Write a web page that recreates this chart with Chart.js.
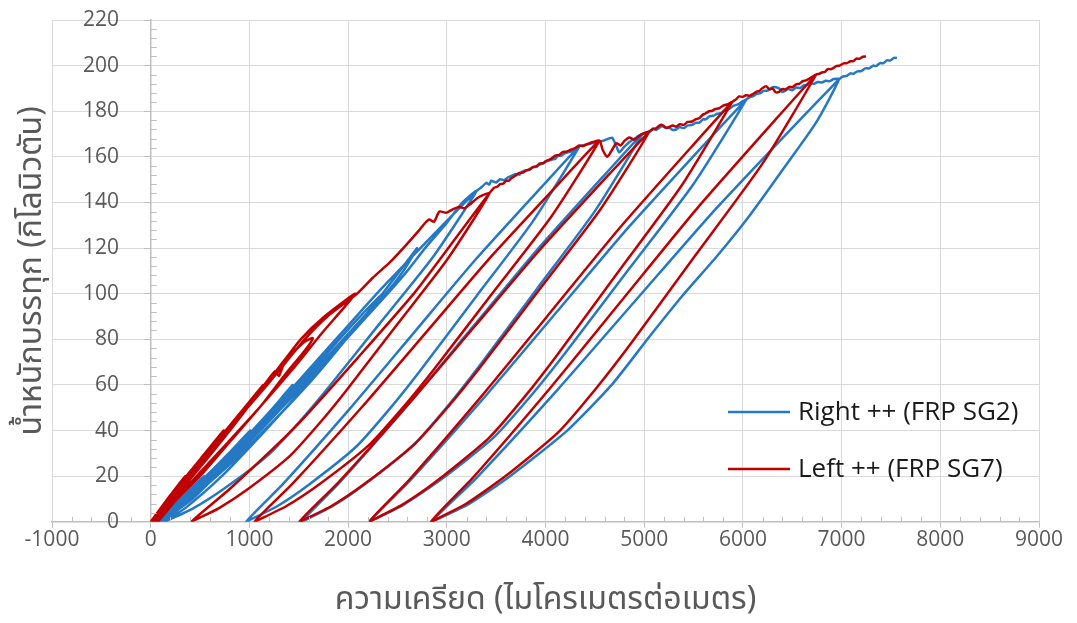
<!DOCTYPE html>
<html>
<head>
<meta charset="utf-8">
<script src="https://cdn.jsdelivr.net/npm/chart.js@4.4.1/dist/chart.umd.min.js"></script>
<style>
  html, body { margin: 0; padding: 0; background: #ffffff; }
  #wrap { width: 1077px; height: 623px; position: relative; }
</style>
</head>
<body>
<div id="wrap"><canvas id="c" width="1077" height="623"></canvas></div>
<script>
// Axis tick values
const strainTickValues = [-1000, 0, 1000, 2000, 3000, 4000, 5000, 6000, 7000, 8000, 9000];
const loadTickValues = [0, 20, 40, 60, 80, 100, 120, 140, 160, 180, 200, 220];

// Series labels
const seriesNames = ['Right ++ (FRP SG2)', 'Left ++ (FRP SG7)'];

// ---- Right ++ (FRP SG2): [strain (microstrain), load (kN)] in loading order ----
const rightInitialCycles = [
  [60,0],[300,10],[540,20],
  [440,14],[280,7],[80,0],
  [320,10],[560,20],[790,30],[1010,40],
  [900,33],[700,22],[420,10],[100,0],
  [340,10],[580,20],[810,30],[1030,40],[1240,50],[1440,60],
  [1320,52],[1100,40],[800,26],[450,12],[110,0],
  [360,10],[600,20],[830,30],[1050,40],[1260,50],[1470,60],[1680,70],[1880,80],
  [1760,73],[1520,60],[1180,44],[800,27],[420,12],[120,0],
  [370,10],[610,20],[850,30],[1070,40],[1290,50],[1500,60],[1710,70],[1910,80],[2120,90],[2350,100],
  [2200,92],[1960,79],[1630,62],[1240,44],[820,26],[430,11],[130,0],
  [380,10],[620,20],[860,30],[1090,40],[1310,50],[1530,60],[1740,70],[1950,80],[2160,90],[2380,100],[2560,110],[2700,120],
  [2560,112],[2330,99],[2000,81],[1600,61],[1160,40],[720,20],[350,6],[140,0],
  [400,10],[640,20],[880,30],[1110,40],[1330,50],[1550,60],[1770,70],[1980,80],[2190,90],[2400,100],[2600,110],[2780,120],[2980,130],[3160,140],[3300,145]
];
const rightUnload1 = [[2858,116],[2321,87],[1784,58],[1500,43.5],[1184,29],[742,14.5],[426,5.8],[142,0]];
const rightReload1 = [[489,14.5],[1121,43.5],[1721,72.5],[2321,101.5],[2968,130.5],[3300,145]];
const rightRise2 = [[3360,147],[3400,148.6],[3430,147.8],[3450,149.5],[3500,148.8],[3540,150.2],[3580,149.8],[3620,151],[3660,151.8],[3700,152.5],[3740,152.2],[3760,153.4],[3800,154],[3840,154.3],[3870,155.4],[3910,155.6],[3940,156.6],[3980,157.1],[4000,158],[4060,158.7],[4100,159.2],[4120,160.3],[4160,160.6],[4200,161.6],[4260,162.4],[4300,163.6],[4342,164.5]];
const rightUnload2 = [[3870,131.6],[3296,98.7],[2722,65.8],[2419,49.4],[2081,32.9],[1609,16.5],[1272,6.6],[968,0]];
const rightReload2 = [[1339,16.5],[2014,49.4],[2655,82.3],[3296,115.2],[3988,148.1],[4342,164.5]];
const rightRise3 = [[4420,165.5],[4500,166.2],[4580,167],[4640,168],[4676,168.4],[4710,165.5],[4747,162],[4790,164],[4850,166.5],[4920,168.5],[4980,170]];
const rightUnload3 = [[4497,136],[3911,102],[3324,68],[3014,51],[2669,34],[2186,17],[1841,6.8],[1530,0]];
const rightReload3 = [[1910,17],[2600,51],[3255,85],[3911,119],[4618,153],[4980,170]];
const rightRise4 = [[5050,171],[5090,172.4],[5120,171.8],[5182,173.5],[5220,172.6],[5250,172.9],[5290,171.8],[5324,172],[5360,173.1],[5400,172.6],[5440,173.8],[5486,174],[5520,174.9],[5560,175],[5600,176.6],[5620,176.4],[5660,177.7],[5700,178],[5740,178.9],[5780,179.2],[5820,180.5],[5860,181],[5900,182.3],[5950,183],[5990,184.2],[6032,185]];
const rightUnload4 = [[5498,148],[4849,111],[4200,74],[3857,55.5],[3475,37],[2941,18.5],[2559,7.4],[2216,0]];
const rightReload4 = [[2636,18.5],[3399,55.5],[4124,92.5],[4849,129.5],[5631,166.5],[6032,185]];
const rightRise5 = [[6070,186.2],[6100,186.5],[6140,187.6],[6180,188],[6210,188.9],[6250,189],[6290,190.3],[6320,190.6],[6366,190],[6400,188.4],[6420,188.8],[6460,189.7],[6500,189.2],[6540,190.4],[6580,190.2],[6620,191.4],[6650,191.5],[6690,192.2],[6720,192],[6760,192.8],[6800,192.6],[6840,193.4],[6880,193.2],[6920,194.1],[6974,194]];
const rightUnload5 = [[6741,175],[6397,154],[6063,134],[5728,116],[5385,99],[5050,81],[4670,60],[4220,40],[3640,20],[3230,8],[2850,0]];
const rightReload5 = [[3304,19.4],[4128,58.2],[4912,97],[5696,135.8],[6541,174.6],[6974,194]];
const rightFinal = [[7010,195.2],[7050,195.5],[7090,196.6],[7120,196.4],[7160,197.5],[7200,197.6],[7240,198.8],[7280,198.8],[7320,200],[7350,199.8],[7390,201.1],[7420,201],[7460,202.3],[7490,202.2],[7530,203.4],[7560,203.5]];

// ---- Left ++ (FRP SG7) ----
const leftInitialCycles = [
  [0,0],[170,10],[350,20],
  [270,13],[140,6],[20,0],
  [180,10],[360,20],[550,30],[740,40],
  [640,33],[460,22],[240,10],[40,0],
  [200,10],[380,20],[570,30],[760,40],[950,50],[1140,60],
  [1030,53],[820,41],[560,27],[290,13],[60,0],
  [210,10],[390,20],[580,30],[770,40],[960,50],[1150,60],[1260,66],[1300,64],[1356,70],[1460,75],[1560,79],[1643,80.5],
  [1560,75],[1370,65],[1120,51],[820,36],[500,20],[200,7],[60,0],
  [220,10],[400,20],[590,30],[780,40],[970,50],[1160,60],[1340,70],[1520,80],[1760,90],[2070,100],
  [1960,94],[1740,83],[1440,67],[1080,49],[700,31],[340,14],[70,0],
  [230,10],[410,20],[600,30],[790,40],[980,50],[1180,60],[1370,70],[1560,80],[1790,90],[2090,100],[2250,107],[2419,113.6],[2580,121],[2723,128],
  [2780,131],[2824,132.5],[2870,131.5],[2925,136],[2996,135.5],[3060,137],[3127,138],[3180,137.5],[3229,139],[3330,142.5],[3431,144]
];
const leftUnload1 = [[3008,115.2],[2495,86.4],[1982,57.6],[1710,43.2],[1408,28.8],[986,14.4],[684,5.8],[412,0]];
const leftReload1 = [[800,14.4],[1500,43.2],[2100,72],[2680,100.8],[3180,129.6],[3431,144]];
const leftRise2 = [[3480,146.5],[3510,146.9],[3540,148],[3570,148.2],[3600,149.5],[3630,149.6],[3650,150.5],[3690,151.6],[3735,153],[3770,153.1],[3800,154],[3840,154.6],[3870,155.5],[3910,155.9],[3940,157],[3980,157.4],[4020,158.5],[4060,159.2],[4100,160.5],[4140,160.9],[4170,162],[4210,162.3],[4250,163],[4300,163.8],[4342,165],[4380,164.7],[4420,165.5],[4480,166.5],[4545,167]];
const leftUnload2 = [[4056,133.6],[3462,100.2],[2869,66.8],[2555,50.1],[2205,33.4],[1716,16.7],[1367,6.7],[1053,0]];
const leftReload2 = [[1437,16.7],[2136,50.1],[2799,83.5],[3462,116.9],[4178,150.3],[4545,167]];
const leftRise3 = [[4580,163],[4625,160],[4660,162],[4717,166],[4760,165],[4800,167],[4850,168.5],[4900,167.5],[4960,169.5],[5050,171]];
const leftUnload3 = [[4554,136.8],[3952,102.6],[3350,68.4],[3031,51.3],[2677,34.2],[2181,17.1],[1827,6.8],[1508,0]];
const leftReload3 = [[1898,17.1],[2606,51.3],[3279,85.5],[3952,119.7],[4678,153.9],[5050,171]];
const leftRise4 = [[5090,172.2],[5120,172.5],[5150,173.6],[5182,174],[5220,172.8],[5250,173],[5290,173.8],[5324,173.2],[5360,174.3],[5400,174],[5440,175.3],[5486,175.5],[5520,176.4],[5560,177],[5590,178.4],[5620,179],[5658,180],[5690,180.2],[5720,181],[5760,181.3],[5800,182.5],[5850,183.1],[5890,184]];
const leftUnload4 = [[5376,147.2],[4751,110.4],[4126,73.6],[3796,55.2],[3428,36.8],[2914,18.4],[2547,7.4],[2216,0]];
const leftReload4 = [[2620,18.4],[3355,55.2],[4053,92],[4751,128.8],[5504,165.6],[5890,184]];
const leftRise5 = [[5930,185.2],[5961,186.5],[6000,186.3],[6030,187],[6070,186.8],[6100,187.5],[6140,188.6],[6170,189],[6200,190.2],[6235,191],[6270,189.6],[6300,190],[6330,188.4],[6366,188.5],[6400,189.8],[6430,189.5],[6470,190.7],[6500,190.5],[6540,191.8],[6570,192],[6610,193.3],[6640,193.5],[6690,194.8],[6741,196]];
const leftUnload5 = [[6195,156.8],[5532,117.6],[4869,78.4],[4518,58.8],[4128,39.2],[3582,19.6],[3192,7.8],[2841,0]];
const leftReload5 = [[3270,19.6],[4050,58.8],[4791,98],[5532,137.2],[6332,176.4],[6741,196]];
const leftFinal = [[6770,196.4],[6800,197],[6830,197.2],[6860,198.5],[6890,198.4],[6920,199],[6950,199.9],[6980,200],[7020,201],[7050,201],[7090,201.9],[7120,202],[7150,203.1],[7180,203],[7215,203.9],[7247,204]];

const toXY = pairs => pairs.map(([x, y]) => ({ x, y }));

const rightPath = toXY([].concat(
  rightInitialCycles, rightUnload1, rightReload1,
  rightRise2, rightUnload2, rightReload2,
  rightRise3, rightUnload3, rightReload3,
  rightRise4, rightUnload4, rightReload4,
  rightRise5, rightUnload5, rightReload5,
  rightFinal));

const leftPath = toXY([].concat(
  leftInitialCycles, leftUnload1, leftReload1,
  leftRise2, leftUnload2, leftReload2,
  leftRise3, leftUnload3, leftReload3,
  leftRise4, leftUnload4, leftReload4,
  leftRise5, leftUnload5, leftReload5,
  leftFinal));

const AXIS_GREY = '#bfbfbf';
const GRID_GREY = '#d9d9d9';
const TEXT_GREY = '#595959';
const LATIN = "'Open Sans', 'Noto Sans', sans-serif";
const THAI = "'Noto Sans Thai', 'Noto Sans', 'Open Sans', sans-serif";

// Short minor tick marks: every 200 on the strain axis (pointing up),
// every 4 on the load axis (pointing right of the axis at strain 0).
const minorTicks = {
  id: 'minorTicks',
  afterDatasetsDraw(chart) {
    const { ctx, scales: { x, y } } = chart;
    const y0 = y.getPixelForValue(0);
    const x0 = x.getPixelForValue(0);
    ctx.save();
    ctx.strokeStyle = AXIS_GREY;
    ctx.lineWidth = 1;
    ctx.beginPath();
    for (let v = x.min; v <= x.max; v += 200) {
      if (v % 1000 === 0) continue;
      const px = Math.round(x.getPixelForValue(v)) + 0.5;
      ctx.moveTo(px, y0);
      ctx.lineTo(px, y0 - 5);
    }
    for (let v = y.min; v <= y.max; v += 4) {
      if (v % 20 === 0) continue;
      const py = Math.round(y.getPixelForValue(v)) + 0.5;
      ctx.moveTo(x0, py);
      ctx.lineTo(x0 + 6, py);
    }
    ctx.stroke();
    ctx.restore();
  }
};

// Legend drawn inside the plot area, lower right
const insideLegend = {
  id: 'insideLegend',
  afterDraw(chart) {
    const ctx = chart.ctx;
    const rows = [412, 469];
    ctx.save();
    chart.data.datasets.forEach((ds, i) => {
      const yy = rows[i];
      ctx.strokeStyle = ds.borderColor;
      ctx.lineWidth = 2.5;
      ctx.beginPath();
      ctx.moveTo(728, yy);
      ctx.lineTo(790, yy);
      ctx.stroke();
      ctx.fillStyle = '#1a1a1a';
      ctx.font = "26px " + LATIN;
      ctx.textBaseline = 'middle';
      ctx.textAlign = 'left';
      ctx.fillText(ds.label, 798, yy + 1);
    });
    ctx.restore();
  }
};

const tickFont = { family: LATIN, size: 21 };
const plainNumber = v => String(v);

new Chart(document.getElementById('c'), {
  type: 'scatter',
  data: {
    datasets: [
      { label: seriesNames[0], data: rightPath, showLine: true, borderColor: '#2478c4', backgroundColor: '#2478c4', borderWidth: 2.5, pointRadius: 0, tension: 0.2, order: 2 },
      { label: seriesNames[1], data: leftPath, showLine: true, borderColor: '#c00000', backgroundColor: '#c00000', borderWidth: 2.5, pointRadius: 0, tension: 0.2, order: 1 }
    ]
  },
  options: {
    responsive: false,
    animation: false,
    devicePixelRatio: 1,
    layout: { padding: { left: 15, right: 38, top: 20, bottom: 0 } },
    plugins: { legend: { display: false }, tooltip: { enabled: false } },
    scales: {
      x: {
        type: 'linear', position: 'bottom', min: -1000, max: 9000,
        afterBuildTicks: s => { s.ticks = strainTickValues.map(v => ({ value: v })); },
        ticks: { font: tickFont, color: TEXT_GREY, padding: 0, maxRotation: 0, autoSkip: false, callback: plainNumber },
        grid: { color: GRID_GREY, lineWidth: 1, tickLength: 6, tickColor: AXIS_GREY },
        border: { color: AXIS_GREY, width: 1.5 },
        title: { display: true, text: 'ความเครียด (ไมโครเมตรต่อเมตร)', font: { family: THAI, size: 32, lineHeight: 1 }, color: TEXT_GREY, padding: { top: 34, bottom: 4 } }
      },
      // axis line, tick marks and horizontal grid, crossing the strain axis at 0
      y: {
        type: 'linear', position: { x: 0 }, min: 0, max: 220,
        afterBuildTicks: s => { s.ticks = loadTickValues.map(v => ({ value: v })); },
        ticks: { display: false },
        grid: { color: GRID_GREY, lineWidth: 1, tickLength: 6, tickColor: AXIS_GREY },
        border: { color: AXIS_GREY, width: 1.5 }
      },
      // load tick labels, set just left of the axis line
      yLabels: {
        type: 'linear', axis: 'y', position: { x: -320 }, min: 0, max: 220,
        afterBuildTicks: s => { s.ticks = loadTickValues.map(v => ({ value: v })); },
        ticks: { font: tickFont, color: TEXT_GREY, padding: 0, callback: plainNumber },
        grid: { display: false, drawTicks: false },
        border: { display: false }
      },
      yTitle: {
        type: 'linear', axis: 'y', position: 'left',
        grid: { display: false, drawTicks: false },
        border: { display: false },
        ticks: { display: false },
        title: { display: true, text: 'น้ำหนักบรรทุก (กิโลนิวตัน)', font: { family: THAI, size: 32, lineHeight: 1 }, color: TEXT_GREY, padding: { top: 4, bottom: 1 } }
      }
    }
  },
  plugins: [minorTicks, insideLegend]
});
</script>
</body>
</html>
